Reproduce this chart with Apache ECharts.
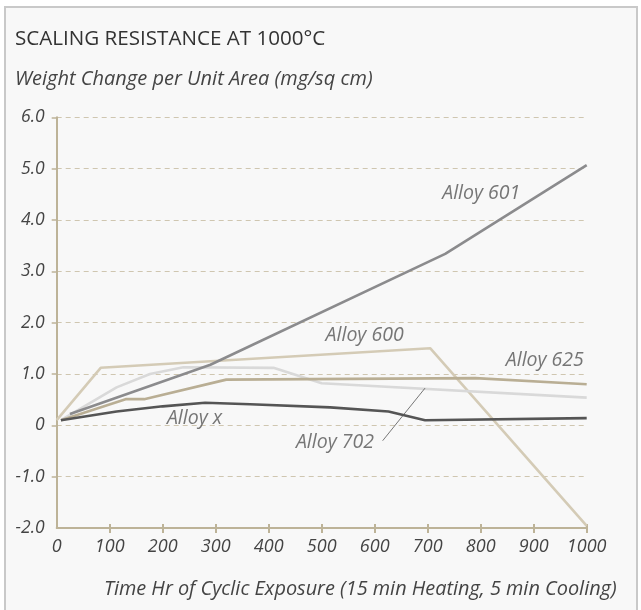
<!DOCTYPE html>
<html>
<head>
<meta charset="utf-8">
<script src="https://cdn.jsdelivr.net/npm/echarts@6/dist/echarts.min.js"></script>
<style>
html,body{margin:0;padding:0;background:#fff;}
#chart{width:641px;height:610px;}
</style>
</head>
<body>
<div id="chart"></div>
<script>
// ---- data ----
const titleText = 'SCALING RESISTANCE AT 1000°C';
const yAxisTitle = 'Weight Change per Unit Area (mg/sq cm)';
const xAxisTitle = 'Time Hr of Cyclic Exposure (15 min Heating, 5 min Cooling)';

const xTicks = [0, 100, 200, 300, 400, 500, 600, 700, 800, 900, 1000];
const yTicks = [-2, -1, 0, 1, 2, 3, 4, 5, 6];

const alloy600Hours  = [0, 83, 705, 1000];
const alloy600Values = [0.10, 1.12, 1.50, -1.96];

const alloy601Hours  = [25, 290, 733, 1000];
const alloy601Values = [0.22, 1.18, 3.34, 5.07];

const alloy625Hours  = [8, 130, 165, 320, 790, 1000];
const alloy625Values = [0.10, 0.51, 0.51, 0.89, 0.92, 0.80];

const alloy702Hours  = [8, 113, 176, 239, 409, 500, 1000];
const alloy702Values = [0.10, 0.74, 1.00, 1.13, 1.12, 0.82, 0.54];

const alloyXHours  = [8, 113, 200, 280, 365, 516, 626, 695, 1000];
const alloyXValues = [0.10, 0.27, 0.37, 0.44, 0.41, 0.35, 0.27, 0.10, 0.14];

const labelNames  = ['Alloy 601', 'Alloy 600', 'Alloy 625', 'Alloy 702', 'Alloy x'];
const labelHours  = [801, 581, 921, 525, 260];
const labelValues = [4.52, 1.76, 1.26, -0.33, 0.13];

const leaderHours  = [615, 695];
const leaderValues = [-0.30, 0.725];

// ---- build ----
const zip = (a, b) => a.map((v, i) => [v, b[i]]);
const FONT = '"Open Sans", "Noto Sans", sans-serif';

function lineSeries(name, hours, values, color, width) {
  return {
    name, type: 'line', data: zip(hours, values), symbol: 'none',
    lineStyle: { color, width, cap: 'butt', join: 'round' },
    silent: true, animation: false, z: 3
  };
}

const chart = echarts.init(document.getElementById('chart'), null, { renderer: 'canvas' });

const option = {
  backgroundColor: '#ffffff',
  animation: false,
  graphic: [
    { type: 'rect', z: -10, shape: { x: 5, y: 7, width: 632, height: 620 },
      style: { fill: '#f8f8f8', stroke: '#c9c9c9', lineWidth: 2 }, silent: true },
    { type: 'text', x: 15, y: 39, silent: true,
      style: { text: titleText, font: '20.6px ' + FONT, fill: '#333', textVerticalAlign: 'middle' } },
    { type: 'text', x: 15, y: 79, silent: true,
      style: { text: yAxisTitle, font: 'italic 20px ' + FONT, fill: '#444', textVerticalAlign: 'middle' } },
    { type: 'text', x: 104, y: 589, silent: true,
      style: { text: xAxisTitle, font: 'italic 19.9px ' + FONT, fill: '#444', textVerticalAlign: 'middle' } }
  ],
  grid: { left: 56.7, right: 54.3, top: 117.3, bottom: 82, containLabel: false },
  xAxis: [{
    type: 'value', min: 0, max: 1000, interval: 100,
    axisLine: { show: true, onZero: false, lineStyle: { color: '#bdb398', width: 2 } },
    axisTick: { show: true, inside: false, length: 5, customValues: xTicks.slice(1),
      lineStyle: { color: '#bdb398', width: 2 } },
    axisLabel: { show: true, margin: 10, color: '#444', fontSize: 18, fontStyle: 'italic',
      fontFamily: FONT, customValues: xTicks, formatter: v => String(v) },
    splitLine: { show: false }
  }, {
    type: 'value', min: 0, max: 1000, interval: 100, position: 'bottom', gridIndex: 0,
    axisLine: { show: false, onZero: false },
    axisTick: { show: true, inside: true, length: 4, customValues: xTicks.slice(1),
      lineStyle: { color: '#bdb398', width: 2 } },
    axisLabel: { show: false },
    splitLine: { show: false }
  }],
  yAxis: {
    type: 'value', min: -2, max: 6, interval: 1,
    axisLine: { show: true, onZero: false, lineStyle: { color: '#bdb398', width: 2 } },
    axisTick: { show: true, inside: false, length: 5, customValues: yTicks.slice(1),
      lineStyle: { color: '#bdb398', width: 1.5 } },
    axisLabel: { show: true, margin: 12, color: '#444', fontSize: 17.5, fontStyle: 'italic',
      fontFamily: FONT, customValues: yTicks,
      formatter: v => (v === 0 ? '0' : v.toFixed(1)) },
    splitLine: { show: true, lineStyle: { color: '#cfc6b0', width: 1, type: [5, 4] } }
  },
  series: [
    lineSeries('Alloy 600', alloy600Hours, alloy600Values, '#d4cbb6', 2.6),
    lineSeries('Alloy 702', alloy702Hours, alloy702Values, '#d9d9d9', 2.6),
    lineSeries('Alloy 625', alloy625Hours, alloy625Values, '#b9ae94', 2.6),
    lineSeries('Alloy x', alloyXHours, alloyXValues, '#555555', 2.6),
    lineSeries('Alloy 601', alloy601Hours, alloy601Values, '#8b8b8d', 2.6),
    {
      name: 'leader', type: 'line', data: zip(leaderHours, leaderValues), symbol: 'none',
      lineStyle: { color: '#555', width: 0.8 }, silent: true, z: 4
    },
    {
      name: 'labels', type: 'scatter', symbolSize: 1, silent: true, z: 5,
      itemStyle: { color: 'rgba(0,0,0,0)' },
      data: labelHours.map((h, i) => [h, labelValues[i], labelNames[i]]),
      label: {
        show: true, position: 'inside', formatter: p => p.data[2],
        color: '#555', fontSize: 19.5, fontStyle: 'italic', fontFamily: FONT
      }
    }
  ]
};
chart.setOption(option);
</script>
</body>
</html>
